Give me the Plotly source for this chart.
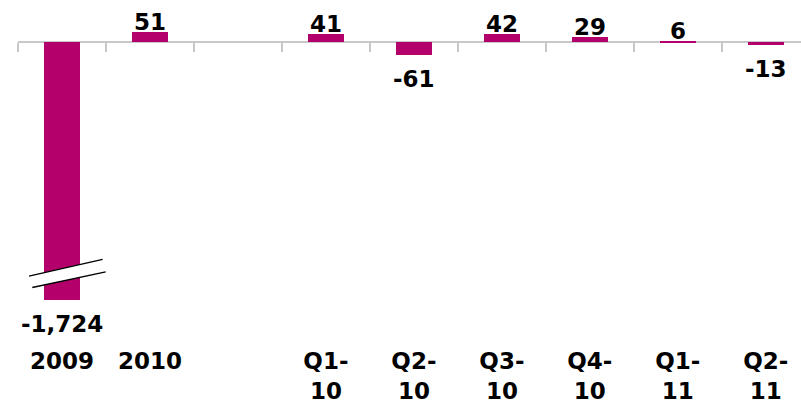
import plotly.graph_objects as go

categories = ["2009", "2010", "", "Q1-<br>10", "Q2-<br>10", "Q3-<br>10", "Q4-<br>10", "Q1-<br>11", "Q2-<br>11"]
values = [-1724, 51, None, 41, -61, 42, 29, 6, -13]

BAR_COLOR = "#B3006B"
AXIS_COLOR = "#C8C8C8"
FONT = dict(family="DejaVu Sans", size=23, color="#000000", weight="bold")

y_min, y_max = -1299, 214
x_min, x_max = -0.5, 8.4
xs = list(range(len(categories)))

fig = go.Figure()
fig.add_trace(go.Bar(
    x=xs, y=values, width=0.41, marker=dict(color=BAR_COLOR, line=dict(width=0)),
    hoverinfo="skip", showlegend=False,
))
# invisible trace on xaxis2 so the zero-line axis is drawn
fig.add_trace(go.Scatter(x=[x_min], y=[0], xaxis="x2", mode="markers",
                         marker=dict(opacity=0), showlegend=False, hoverinfo="skip"))

# value labels
for x, v in zip(xs, values):
    if v is None:
        continue
    shown = max(v, y_min)
    if v >= 0:
        fig.add_annotation(x=x, y=shown, text=f"{v:,}", showarrow=False, font=FONT,
                           xanchor="center", yanchor="bottom", yshift=-5)
    else:
        fig.add_annotation(x=x, y=shown, text=f"{v:,}", showarrow=False, font=FONT,
                           xanchor="center", yanchor="top", yshift=-9)

# axis break marker on the clipped 2009 bar
bx = xs[0]
l1 = [(bx - 0.375, -1178), (bx + 0.462, -1094)]
l2 = [(bx - 0.3375, -1236), (bx + 0.4966, -1157)]
path = (f"M {l1[0][0]},{l1[0][1]} L {l1[1][0]},{l1[1][1]} "
        f"L {l2[1][0]},{l2[1][1]} L {l2[0][0]},{l2[0][1]} Z")
fig.add_shape(type="path", path=path, xref="x", yref="y", fillcolor="white",
              line=dict(width=0), layer="above")
for (p, q) in (l1, l2):
    fig.add_shape(type="line", x0=p[0], y0=p[1], x1=q[0], y1=q[1], xref="x", yref="y",
                  line=dict(color="#000000", width=1.3), layer="above")

zero_pos = (0 - y_min) / (y_max - y_min)
boundaries = [i - 0.5 for i in range(len(categories) + 1)]

fig.update_layout(
    width=801, height=404,
    margin=dict(l=18, r=0, t=0, b=98, pad=0),
    paper_bgcolor="white", plot_bgcolor="white",
    bargap=0,
    xaxis=dict(range=[x_min, x_max], tickvals=xs, ticktext=categories,
               tickfont=FONT, ticks="", showline=False, showgrid=False,
               zeroline=False, ticklabelstandoff=45),
    xaxis2=dict(range=[x_min, x_max], overlaying="x", anchor="free", position=zero_pos,
                side="bottom", showline=True, linecolor=AXIS_COLOR, linewidth=2,
                ticks="outside", tickvals=boundaries, ticklen=9, tickwidth=1.5,
                tickcolor=AXIS_COLOR, showticklabels=False, showgrid=False, zeroline=False,
                layer="below traces"),
    yaxis=dict(range=[y_min, y_max], visible=False),
)

fig.write_html("out.html", config={"displayModeBar": False},
               post_script="document.body.style.margin='0';")
